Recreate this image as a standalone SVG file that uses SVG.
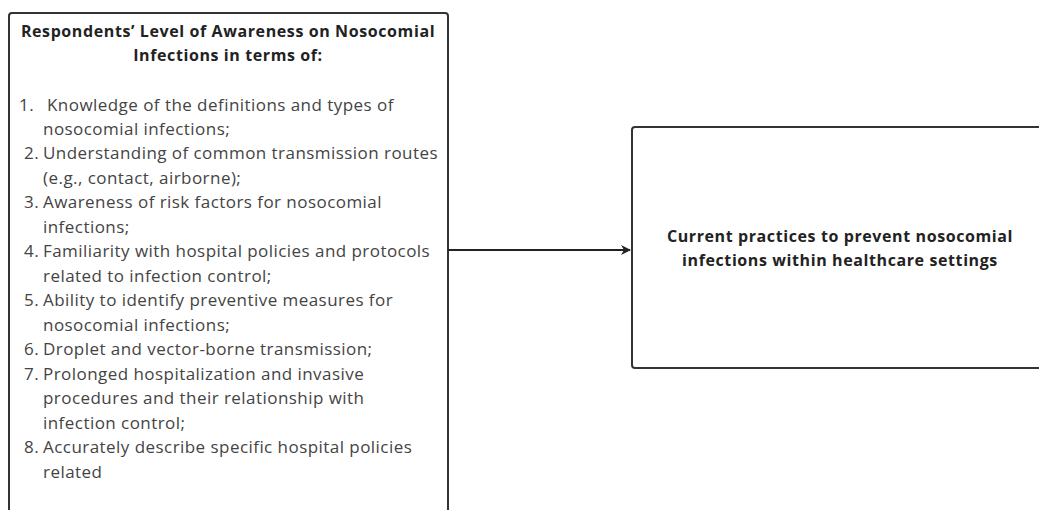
<svg xmlns="http://www.w3.org/2000/svg" width="1039" height="510" viewBox="0 0 1039 510">
<style>
.box{fill:#fff;stroke:#333;stroke-width:2}
.title{font-family:"Open Sans",sans-serif;font-weight:bold;font-size:16px;letter-spacing:0.6px;fill:#222;text-anchor:middle}
.item{font-family:"Open Sans",sans-serif;font-size:17px;letter-spacing:0.45px;fill:#444}
.conn{stroke:#222;stroke-width:2;fill:none}
</style>
<defs>
<marker id="arr" viewBox="0 0 10 10" refX="9" refY="5" markerWidth="5" markerHeight="5" orient="auto" markerUnits="strokeWidth">
<path d="M0,0 L10,5 L0,10 L3,5 z" fill="#222"/>
</marker>
</defs>
<rect width="1039" height="510" fill="#fff"/>
<g id="node-awareness">
<rect class="box" x="9" y="13" width="439" height="520" rx="3"/>
<text class="title" x="228" y="37">Respondents’ Level of Awareness on Nosocomial</text>
<text class="title" x="228" y="61">Infections in terms of:</text>
<g class="item">
<text x="19" y="111">1.</text><text x="47" y="111">Knowledge of the definitions and types of</text>
<text x="43" y="135">nosocomial infections;</text>
<text x="24" y="159">2.</text><text x="43" y="159">Understanding of common transmission routes</text>
<text x="43" y="184">(e.g., contact, airborne);</text>
<text x="24" y="208">3.</text><text x="43" y="208">Awareness of risk factors for nosocomial</text>
<text x="43" y="233">infections;</text>
<text x="24" y="257">4.</text><text x="43" y="257">Familiarity with hospital policies and protocols</text>
<text x="43" y="282">related to infection control;</text>
<text x="24" y="306">5.</text><text x="43" y="306">Ability to identify preventive measures for</text>
<text x="43" y="331">nosocomial infections;</text>
<text x="24" y="355">6.</text><text x="43" y="355">Droplet and vector-borne transmission;</text>
<text x="24" y="380">7.</text><text x="43" y="380">Prolonged hospitalization and invasive</text>
<text x="43" y="404">procedures and their relationship with</text>
<text x="43" y="429">infection control;</text>
<text x="24" y="453">8.</text><text x="43" y="453">Accurately describe specific hospital policies</text>
<text x="43" y="478">related</text>
</g>
</g>
<g id="node-practices">
<rect class="box" x="632" y="127" width="420" height="241" rx="3"/>
<text class="title" x="840" y="242">Current practices to prevent nosocomial</text>
<text class="title" x="840" y="266">infections within healthcare settings</text>
</g>
<g id="connectors">
<line class="conn" x1="448" y1="250" x2="630" y2="250" marker-end="url(#arr)"/>
</g>
</svg>
